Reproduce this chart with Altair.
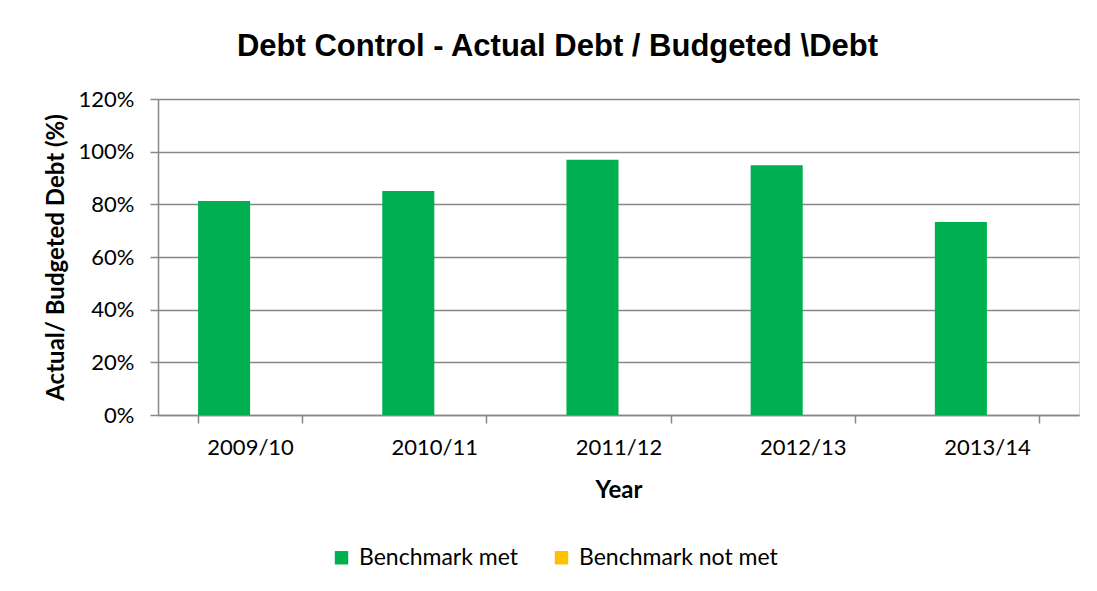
import altair as alt
import pandas as pd

years = ["2009/10", "2010/11", "2011/12", "2012/13", "2013/14"]
met = [81.3, 85.1, 96.9, 94.8, 73.3]
not_met = [0, 0, 0, 0, 0]
series = ["Benchmark met", "Benchmark not met"]
colors = ["#00B050", "#FFC000"]

rows = []
for i, y in enumerate(years):
    rows.append({"Year": y, "Series": series[0], "Value": met[i] / 100.0, "order": 0})
    rows.append({"Year": y, "Series": series[1], "Value": not_met[i] / 100.0, "order": 1})
df = pd.DataFrame(rows)

LABEL_FONT = "Lato"

chart = (
    alt.Chart(df)
    .mark_bar()
    .encode(
        x=alt.X(
            "Year:N",
            sort=years,
            scale=alt.Scale(paddingInner=0.435, paddingOuter=0.2175),
            axis=alt.Axis(
                title="Year",
                labelAngle=0,
                tickBand="extent",
                grid=False,
                domainColor="#888888",
                domainWidth=1.5,
                tickColor="#888888",
                tickWidth=1.5,
                tickSize=8,
                labelFont=LABEL_FONT,
                labelFontSize=22,
                labelColor="#000000",
                labelPadding=14,
                titleFont=LABEL_FONT,
                titleFontSize=24,
                titleFontWeight="bold",
                titleColor="#000000",
                titlePadding=20,
            ),
        ),
        xOffset=alt.XOffset("Series:N", sort=series, scale=alt.Scale(paddingInner=0, paddingOuter=0)),
        y=alt.Y(
            "Value:Q",
            scale=alt.Scale(domain=[0, 1.2], nice=False),
            axis=alt.Axis(
                title="Actual/ Budgeted Debt (%)",
                format=".0%",
                values=[0, 0.2, 0.4, 0.6, 0.8, 1.0, 1.2],
                grid=True,
                gridColor="#888888",
                gridWidth=1.5,
                domainColor="#888888",
                domainWidth=1.5,
                tickColor="#888888",
                tickWidth=1.5,
                tickSize=8,
                labelFont=LABEL_FONT,
                labelFontSize=22,
                labelColor="#000000",
                labelPadding=16,
                titleFont=LABEL_FONT,
                titleFontSize=24,
                titleFontWeight="bold",
                titleColor="#000000",
                titlePadding=10,
            ),
        ),
        color=alt.Color(
            "Series:N",
            sort=series,
            scale=alt.Scale(domain=series, range=colors),
            legend=alt.Legend(
                title=None,
                orient="none",
                direction="horizontal",
                legendX=172,
                legendY=447,
                symbolType="square",
                symbolSize=180,
                symbolStrokeWidth=0,
                labelFont=LABEL_FONT,
                labelFontSize=23,
                labelColor="#000000",
                labelLimit=400,
                columnPadding=31,
                labelOffset=6,
            ),
        ),
    )
    .properties(
        width=921,
        height=316,
        autosize=alt.AutoSizeParams(type="none"),
        padding={"left": 150, "top": 91, "right": 10, "bottom": 170},
        title=alt.TitleParams(
            text="Debt Control - Actual Debt / Budgeted \\Debt",
            font="Liberation Sans",
            fontSize=31,
            fontWeight="bold",
            color="#000000",
            anchor="middle",
            frame="group",
            dx=-61,
            offset=25,
        ),
    )
    .configure_view(stroke=None)
    .configure(background="white")
)

chart.save("out.html", embed_options={"renderer": "svg", "actions": False})
